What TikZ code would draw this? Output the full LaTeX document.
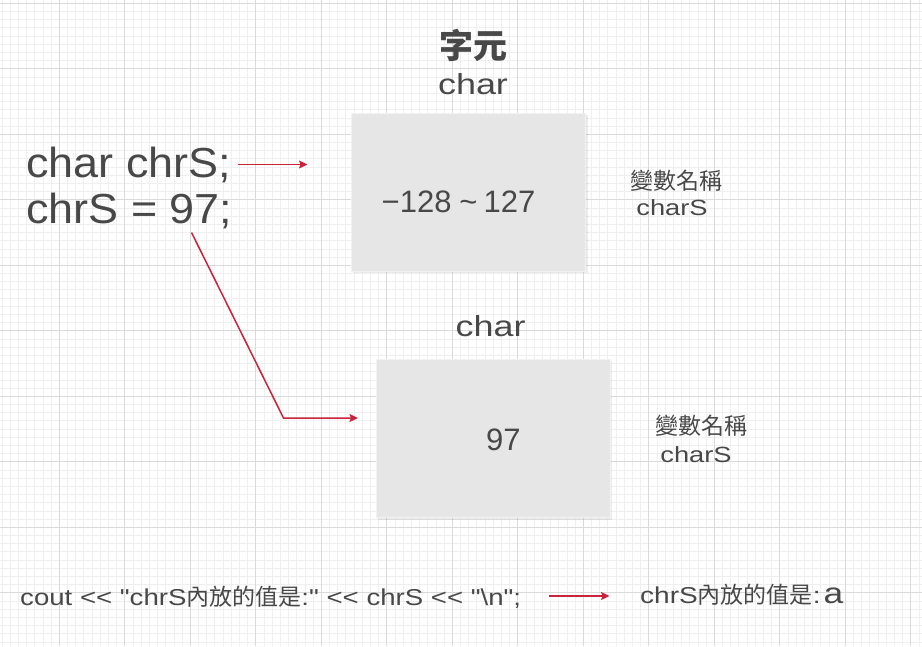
\documentclass[tikz,border=0pt]{standalone}
\usepackage{fontspec}
\defaultfontfeatures{Ligatures=TeXOff}
\setmainfont{Liberation Sans}[Ligatures=TeXOff]
\newfontfamily\cjk{Noto Sans CJK TC}[Ligatures=TeXOff]
\newfontfamily\sA{Liberation Sans}[FakeStretch=1.07,Ligatures=TeXOff]
\newfontfamily\sB{Liberation Sans}[FakeStretch=1.24,Ligatures=TeXOff]
\newfontfamily\sC{Liberation Sans}[FakeStretch=1.20,Ligatures=TeXOff]
\newfontfamily\sD{Liberation Sans}[FakeStretch=1.22,Ligatures=TeXOff]
\usetikzlibrary{arrows.meta}
\definecolor{txtc}{HTML}{484848}
\definecolor{redc}{HTML}{C8233A}
\definecolor{boxc}{HTML}{E6E6E6}
\definecolor{boxedge}{HTML}{F2F2F2}
\definecolor{minorc}{HTML}{EFEFEF}
\definecolor{majorc}{HTML}{DADADA}
\newcommand{\fs}[1]{\fontsize{#1}{#1}\selectfont}
\begin{document}
\begin{tikzpicture}[x=1pt,y=-1pt,
  txt/.style={inner sep=0pt, text=txtc},
  arr/.style={draw=redc, line width=1.5pt, -{Stealth[length=8.5pt,width=8pt,inset=1.5pt]}},
  membox/.style={fill=boxc, draw=boxedge, line width=0.8pt, inner sep=0pt, anchor=north west},
  minorg/.style={draw=minorc, line width=0.8pt},
  majorg/.style={draw=majorc, line width=1.1pt},
  boxshadow/.style={fill=black, opacity=0.08}]
\useasboundingbox (0,0) rectangle (922,646);
\fill[white] (0,0) rectangle (922,646);
% grid
\foreach \i in {0,...,114} { \draw[minorg] ({-6.2+\i*8.1875},0) -- ({-6.2+\i*8.1875},646); }
\foreach \i in {0,...,79} { \draw[minorg] (0,{3.3+\i*8.1875}) -- (922,{3.3+\i*8.1875}); }
\foreach \i in {0,...,15} { \draw[majorg] ({-6.2+\i*65.5},0) -- ({-6.2+\i*65.5},646); }
\foreach \i in {0,...,10} { \draw[majorg] (0,{3.3+\i*65.5}) -- (922,{3.3+\i*65.5}); }
% boxes
\fill[boxshadow] (353,115) rectangle (587.5,273);
\fill[boxshadow] (377.5,361) rectangle (611.5,519.5);
\node[membox, minimum width=234pt, minimum height=158pt] (box1) at (351,113) {};
\node[membox, minimum width=233.5pt, minimum height=158pt] (box2) at (376,359) {};
% code lines
\node[txt, anchor=base west] (l1) at (26,177) {\sA\fs{42}char chrS;};
\node[txt, anchor=base west] (l2) at (26,223) {\sA\fs{42}chrS = 97;};
% titles
\node[txt] (t1) at (473,45) {\cjk\bfseries\fs{34}字元};
\node[txt, anchor=base] (t2) at (473,94) {\sB\fs{29}char};
\node[txt, anchor=base] (t3) at (490.7,336) {\sB\fs{29}char};
% values
\node[txt, anchor=base] (r1) at (458.5,212.7) {\fs{31}−128\hspace{0.25em}\textasciitilde\hspace{0.2em}127};
\node[txt, anchor=base] (v97) at (503.3,450.7) {\fs{31}97};
% variable names
\node[txt] (n1) at (676.3,180.4) {\cjk\fs{23}變數名稱};
\node[txt, anchor=base] (c1) at (672,215) {\sB\fs{22}charS};
\node[txt] (n2) at (701,426) {\cjk\fs{23}變數名稱};
\node[txt, anchor=base] (c2) at (696,462.3) {\sB\fs{22}charS};
% bottom
\node[txt, anchor=base west] (cout) at (20,605) {\sC\fs{23}cout << "chrS{\cjk 內放的值是}:" << chrS << "\textbackslash n";};
\node[txt, anchor=base west] (out) at (640,603) {\sD\fs{23}chrS{\cjk 內放的值是}:\hspace{3pt}{\fs{29}a}};
% connectors
\coordinate (a1s) at (237.7,164.5);
\coordinate (a1e) at (307.5,164.5);
\coordinate (a2s) at (191.5,232.5);
\coordinate (a2m) at (283.5,418);
\coordinate (a2e) at (358,418);
\coordinate (a3s) at (548.5,596);
\coordinate (a3e) at (609.5,596);
\draw[arr] (a1s) -- (a1e);
\draw[arr] (a2s) -- (a2m) -- (a2e);
\draw[arr] (a3s) -- (a3e);
\end{tikzpicture}
\end{document}
